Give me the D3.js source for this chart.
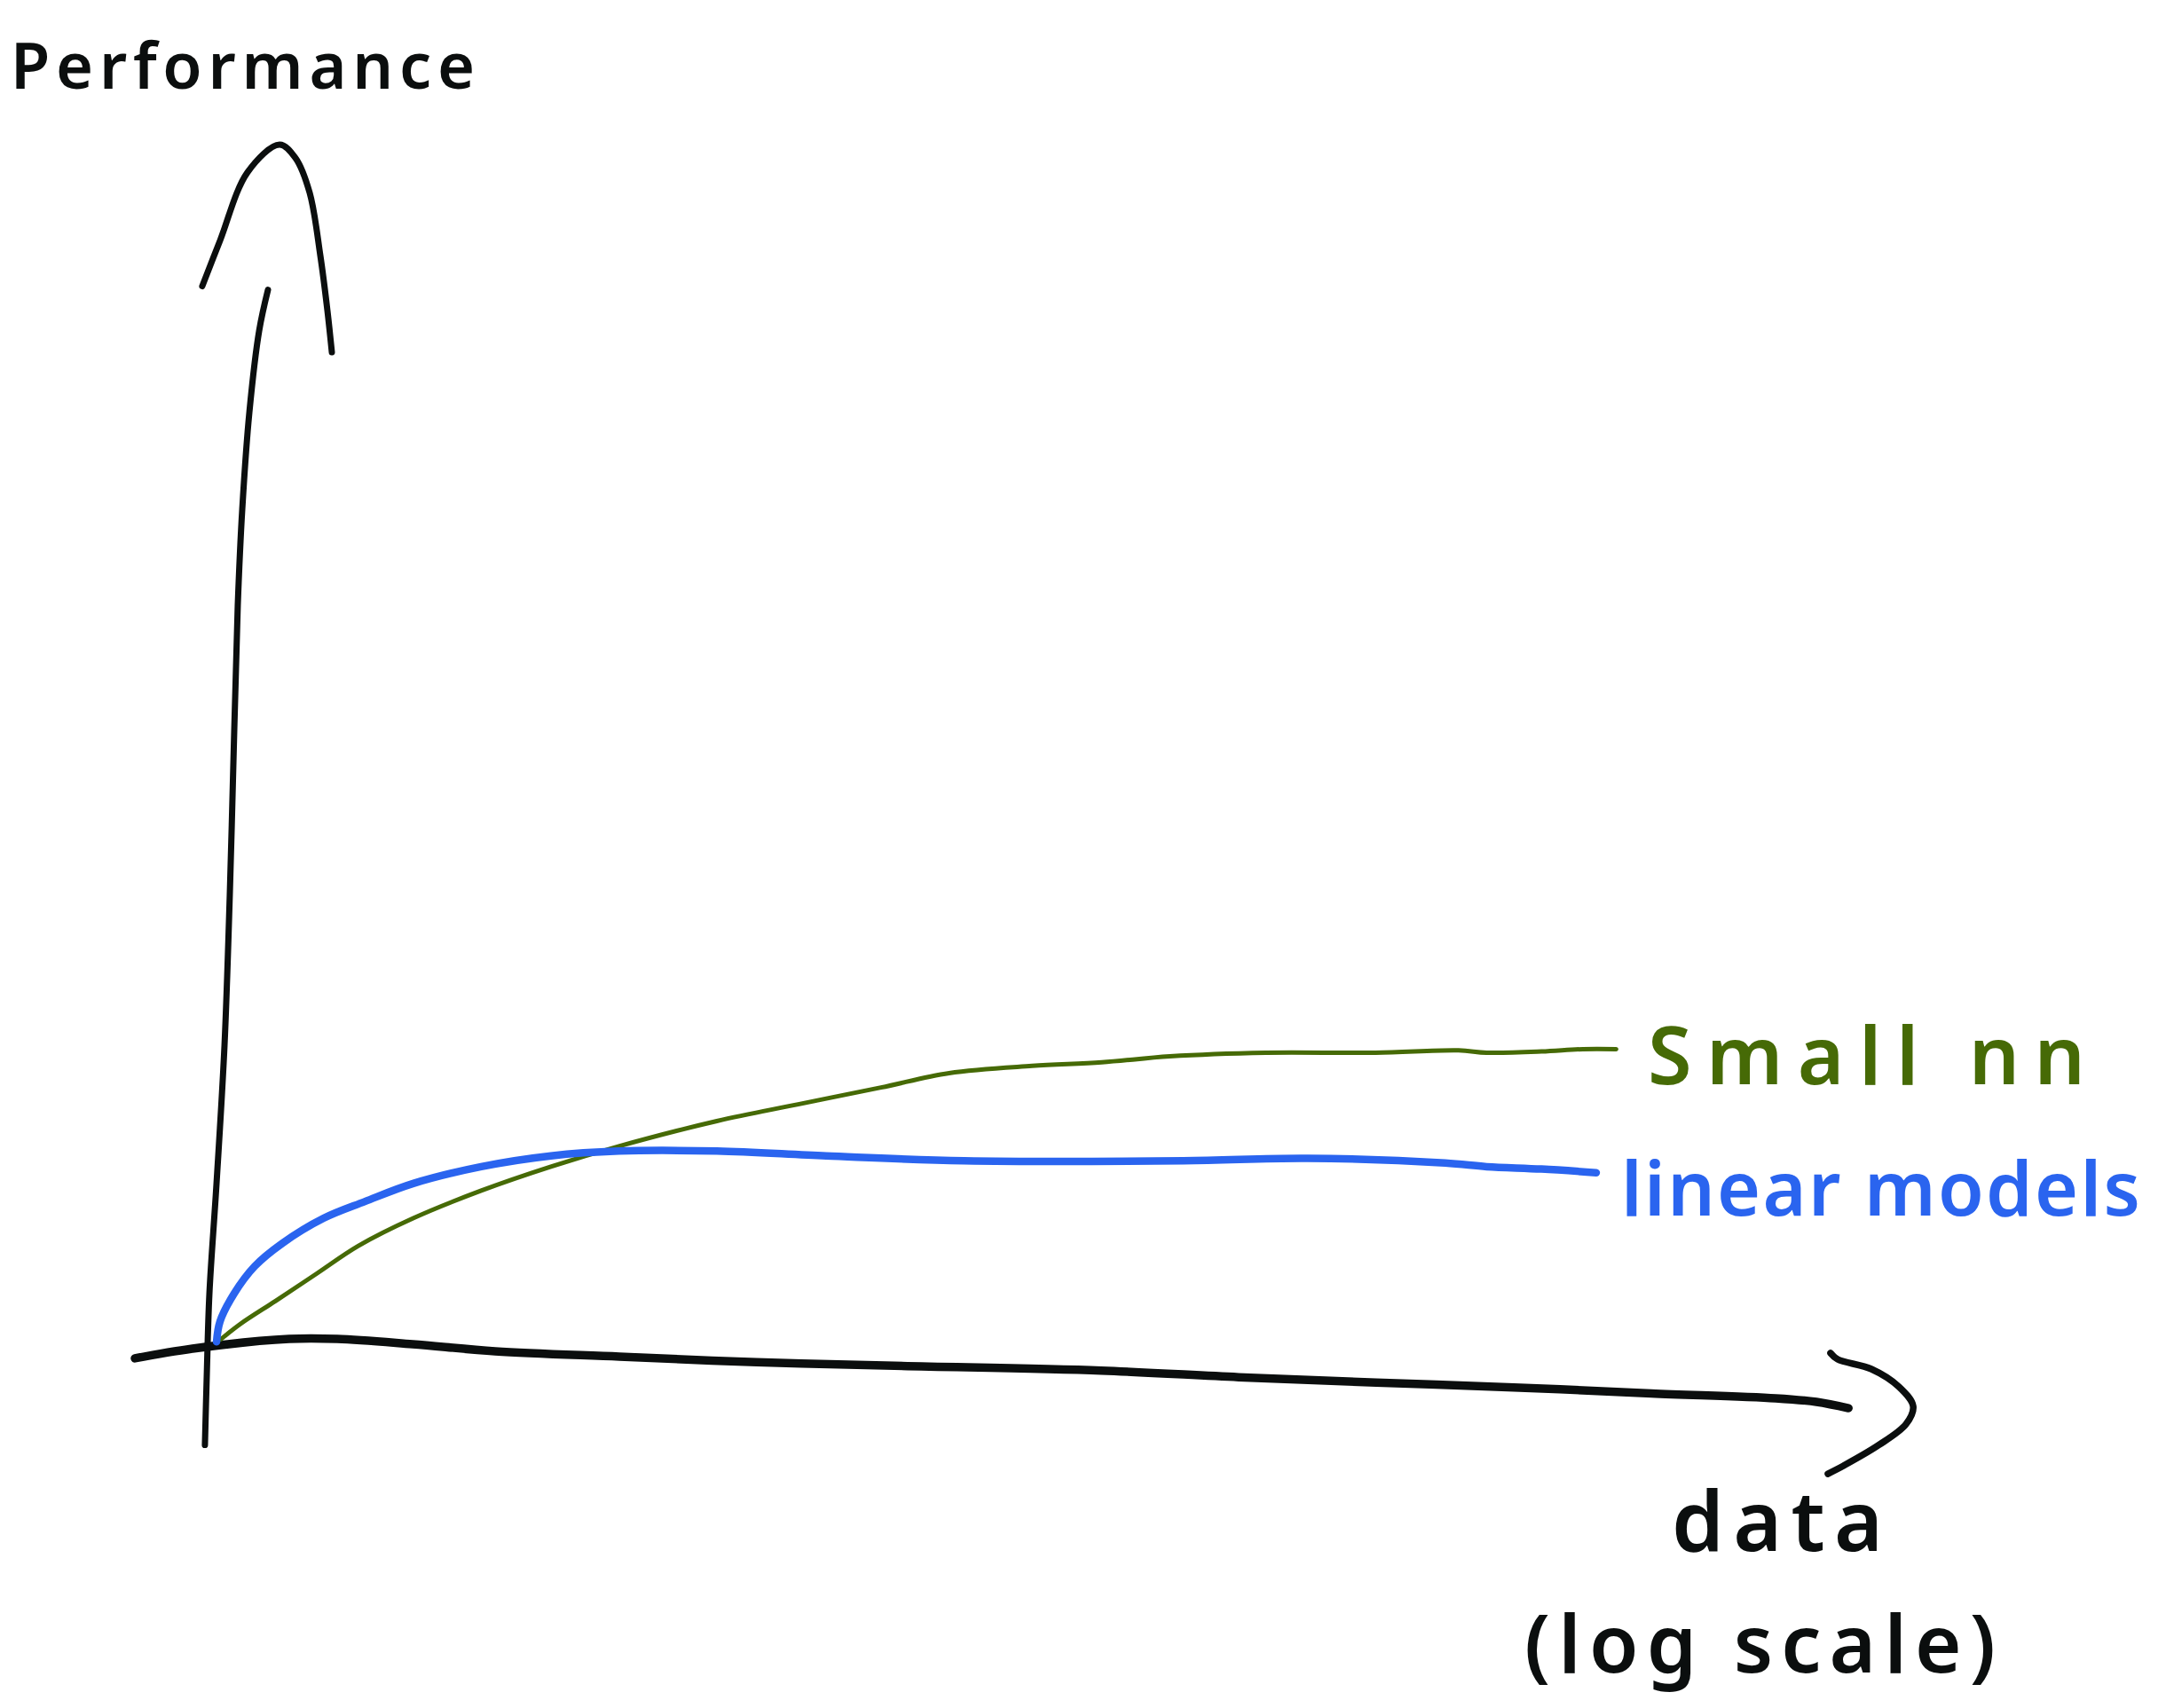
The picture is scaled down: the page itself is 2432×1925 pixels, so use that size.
<!DOCTYPE html>
<html>
<head>
<meta charset="utf-8">
<script src="https://cdn.jsdelivr.net/npm/d3@7"></script>
<style>
html,body{margin:0;padding:0;background:#fff;}
svg{display:block;}
</style>
</head>
<body>
<svg id="chart" width="2432" height="1925"></svg>
<script>
// ---- data (x: data on log scale, 0-100 units; y: performance, 0-100 units) ----
const linearX = [0.75, 0.96, 1.8, 3.05, 4.7, 7.2, 9.7, 12.6, 16.7, 20.9, 25.0, 30.9, 37.5, 45.8, 59.0, 66.5, 74.8, 77.3, 80.6, 83.9];
const linearY = [0.2, 1.9, 4.2, 6.5, 8.4, 10.5, 11.9, 13.4, 14.8, 15.7, 16.1, 16.1, 15.7, 15.3, 15.3, 15.5, 15.1, 14.8, 14.6, 14.3];
const smallNnX = [1.0, 2.2, 4.3, 6.8, 9.3, 12.6, 16.7, 20.9, 25.0, 30.9, 35.8, 40.8, 44.9, 49.9, 54.1, 58.2, 64.0, 70.6, 75.6, 77.3, 80.6, 83.1, 85.1];
const smallNnY = [0.4, 1.7, 3.6, 5.9, 8.2, 10.5, 12.8, 14.8, 16.5, 18.6, 20.0, 21.4, 22.6, 23.2, 23.5, 24.0, 24.3, 24.3, 24.5, 24.3, 24.4, 24.6, 24.6];
const seriesNames = ["Small nn", "linear models"];
// hand-drawn axes, in the same units
const yAxisX = [0.05, 0.16, 0.32, 0.75, 1.23, 1.55, 1.82, 2.03, 2.3, 2.73, 3.32, 3.85];
const yAxisY = [-8.4, -2.7, 4.2, 13.4, 24.9, 37.5, 51.3, 61.6, 69.6, 77.7, 84.5, 87.9];
const yHeadX = [-0.11, 0.96, 2.62, 4.55, 5.5, 6.36, 7.0, 7.43, 7.7];
const yHeadY = [88.2, 92.0, 97.7, 100, 98.9, 96.0, 90.8, 86.2, 82.7];
const xAxisX = [-4.17, -0.7, 5.13, 8.02, 12.57, 17.54, 25.03, 33.3, 41.6, 54.06, 62.35, 70.64, 78.93, 87.22, 94.71, 97.17, 99.1];
const xAxisY = [-1.18, -0.37, 0.44, 0.44, 0, -0.59, -1.04, -1.5, -1.8, -2.2, -2.75, -3.2, -3.6, -4.1, -4.51, -4.81, -5.33];
const xHeadX = [98.02, 98.45, 100.48, 102.14, 103.0, 102.57, 100.9, 98.8, 97.86];
const xHeadY = [-0.74, -1.26, -2.07, -3.55, -5.18, -6.66, -8.43, -10.13, -10.8];
const axisTitles = ["Performance", "data", "(log scale)"];

// ---- drawing ----
const svg = d3.select("#chart");
const x = d3.scaleLinear().domain([0, 100]).range([230, 2100]);
const y = d3.scaleLinear().domain([0, 100]).range([1515, 163]);
const zip = (a, b) => a.map((v, i) => [v, b[i]]);
const line = d3.line().x(d => x(d[0])).y(d => y(d[1])).curve(d3.curveCatmullRom.alpha(0.5));

const ink = "#0b0e0e", green = "#466a06", blue = "#2a64ef";

function stroke(pts, color, w) {
  svg.append("path").attr("d", line(pts)).attr("fill", "none")
    .attr("stroke", color).attr("stroke-width", w)
    .attr("stroke-linecap", "round").attr("stroke-linejoin", "round");
}

// axes
stroke(zip(xAxisX, xAxisY), ink, 9.5);
stroke(zip(xHeadX, xHeadY), ink, 7.5);
stroke(zip(yAxisX, yAxisY), ink, 7);
stroke(zip(yHeadX, yHeadY), ink, 7);

// series
stroke(zip(smallNnX, smallNnY), green, 5);
stroke(zip(linearX, linearY), blue, 8.5);

// labels
const font = "'Noto Sans', 'DejaVu Sans', sans-serif";
function label(t, x0, base, w, size, color) {
  svg.append("text").attr("x", x0).attr("y", base).text(t)
    .attr("font-family", font).attr("font-size", size).attr("font-weight", 600)
    .attr("fill", color).attr("textLength", w).attr("lengthAdjust", "spacing");
}
label(axisTitles[0], 12, 100, 523, 72, ink);
label(seriesNames[0], 1857, 1222, 493, 90, green);
label(seriesNames[1], 1827, 1370, 585, 84, blue);
label(axisTitles[1], 1884, 1748, 238, 94, ink);
label(axisTitles[2], 1718, 1885, 531, 90, ink);
</script>
</body>
</html>
